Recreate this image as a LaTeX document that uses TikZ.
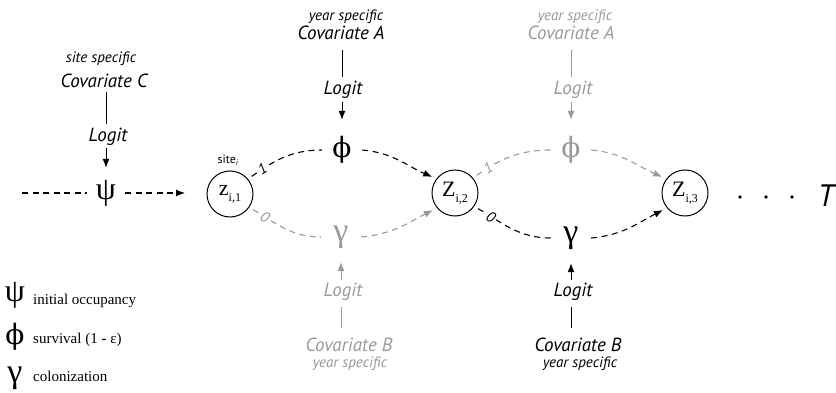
\documentclass[tikz,border=0pt]{standalone}
\usepackage{fontspec}
\setmainfont{Liberation Serif}
\newfontfamily\sansf{PT Sans}
\newfontfamily\phif{DejaVu Serif}
\usetikzlibrary{arrows.meta}
\definecolor{lg}{gray}{0.6}
\newcommand\zl[2]{{\fontsize{22}{22}\selectfont #1}\raisebox{-6pt}{\fontsize{12}{12}\selectfont #2}}
\begin{document}
\begin{tikzpicture}[x=1pt,y=1pt,
  cov/.style={font=\sansf\itshape\fontsize{19}{19}\selectfont, inner sep=0pt},
  spec/.style={font=\sansf\itshape\fontsize{15}{15}\selectfont, inner sep=0pt},
  gk/.style={inner sep=0pt, minimum width=40pt, minimum height=30pt},
  gpsi/.style={font=\fontsize{32}{32}\selectfont},
  gphi/.style={font=\phif\fontsize{28}{28}\selectfont},
  ggam/.style={font=\fontsize{34}{34}\selectfont},
  zc/.style={circle, draw, line width=1pt, minimum size=46pt, inner sep=0pt, outer sep=0pt},
  dl/.style={line width=1.1pt, dash pattern=on 6pt off 4.5pt},
  tip/.style={-{Latex[length=9pt,width=7pt]}},
  sl/.style={line width=1pt},
  num/.style={font=\sansf\itshape\fontsize{15}{15}\selectfont, inner sep=1.5pt, fill=white},
  leg/.style={font=\fontsize{15}{15}\selectfont, anchor=west, inner sep=0pt},
  dot/.style={circle, fill, inner sep=0pt, minimum size=3.6pt},
]
\useasboundingbox (0,0) rectangle (836,-393);

% main nodes
\node[gk,gpsi,minimum width=38pt] (psi) at (106,-193) {ψ};
\node[zc] (z1) at (230,-194) {\zl{z}{i,1}};
\node[gk,gphi] (phiA) at (342,-150) {ϕ};
\node[gk,ggam,text=lg] (gamA) at (341,-237) {γ};
\node[zc] (z2) at (455,-193) {\zl{Z}{i,2}};
\node[gk,gphi,text=lg] (phiB) at (571,-150) {ϕ};
\node[gk,ggam] (gamB) at (571,-238) {γ};
\node[zc] (z3) at (685,-193) {\zl{Z}{i,3}};
\node[font=\sansf\fontsize{12}{12}\selectfont, inner sep=0pt] (site) at (228,-160) {site\textsubscript{\itshape i}};
\node[dot] (d1) at (740,-197) {};
\node[dot] (d2) at (766,-197) {};
\node[dot] (d3) at (792,-197) {};
\node[font=\sansf\itshape\fontsize{31}{31}\selectfont, inner sep=0pt] (T) at (826,-196) {T};
\coordinate (start) at (22,-193);

% covariate C
\node[spec] (sC) at (101,-59) {site specific};
\node[cov] (cC) at (104,-81) {Covariate C};
\node[cov] (lC) at (108,-137) {Logit};
\draw[sl,shorten <=4pt,shorten >=4.5pt] (cC.south -| psi.north) -- (lC.north -| psi.north);
\draw[sl,tip,shorten <=2pt,shorten >=10pt] (lC.south -| psi.north) -- (psi.north);

% covariate A black
\node[spec] (sA1) at (346,-17) {year specific};
\node[cov] (cA1) at (341,-33) {Covariate A};
\node[cov] (lA1) at (343,-89.5) {Logit};
\draw[sl,shorten <=10pt,shorten >=3.4pt] (cA1.south -| phiA.north) -- (lA1.north -| phiA.north);
\draw[sl,tip,shorten <=3.4pt,shorten >=15pt] (lA1.south -| phiA.north) -- (phiA.north);

% covariate A grey
\begin{scope}[lg]
\node[spec,text=lg] (sA2) at (575,-17) {year specific};
\node[cov,text=lg] (cA2) at (571,-33) {Covariate A};
\node[cov,text=lg] (lA2) at (573,-89.5) {Logit};
\draw[sl,shorten <=10pt,shorten >=3.4pt] (cA2.south -| phiB.north) -- (lA2.north -| phiB.north);
\draw[sl,tip,shorten <=3.4pt,shorten >=15pt] (lA2.south -| phiB.north) -- (phiB.north);
\end{scope}

% covariate B grey
\begin{scope}[lg]
\node[cov,text=lg] (lB1) at (343,-292) {Logit};
\node[cov,text=lg] (cB1) at (349,-345) {Covariate B};
\node[spec,text=lg] (sB1) at (350,-364) {year specific};
\draw[sl,shorten <=10pt,shorten >=5.6pt] (cB1.north -| gamA.south) -- (lB1.south -| gamA.south);
\draw[sl,tip,shorten <=2.6pt,shorten >=10pt] (lB1.north -| gamA.south) -- (gamA.south);
\end{scope}

% covariate B black
\node[cov] (lB2) at (573,-292) {Logit};
\node[cov] (cB2) at (578,-345) {Covariate B};
\node[spec] (sB2) at (580,-364) {year specific};
\draw[sl,shorten <=10pt,shorten >=5.6pt] (cB2.north -| gamB.south) -- (lB2.south -| gamB.south);
\draw[sl,tip,shorten <=2.6pt,shorten >=10pt] (lB2.north -| gamB.south) -- (gamB.south);

% horizontal flow
\draw[dl] (start) -- (psi.west);
\draw[dl,tip,shorten >=22pt] (psi.east) -- (psi.east -| z1.west);

\draw[dl,shorten <=5pt] (z1.40) to[out=35,in=180] node[num,sloped,pos=0.2]{1} (phiA.west);
\draw[dl,tip,shorten >=5pt] (phiA.east) to[out=-5,in=157] (z2.142);
\draw[dl,lg,shorten <=5pt] (z1.-35) to[out=-30,in=180] node[num,sloped,pos=0.22,text=lg]{0} (gamA.west);
\draw[dl,lg,tip,shorten >=5pt] (gamA.east) to[out=5,in=207] (z2.220);

\draw[dl,lg,shorten <=5pt] (z2.40) to[out=35,in=180] node[num,sloped,pos=0.2,text=lg]{1} (phiB.west);
\draw[dl,lg,tip,shorten >=5pt] (phiB.east) to[out=-5,in=157] (z3.142);
\draw[dl,shorten <=5pt] (z2.-35) to[out=-30,in=180] node[num,sloped,pos=0.22]{0} (gamB.west);
\draw[dl,tip,shorten >=5pt] (gamB.east) to[out=5,in=207] (z3.220);

% legend
\node[gk,gpsi,minimum width=0pt] (lpsi) at (15,-295) {ψ};
\node[gk,gphi,minimum width=0pt] (lphi) at (15,-337) {ϕ};
\node[gk,ggam,minimum width=0pt] (lgam) at (15,-378) {γ};
\node[leg] (tpsi) at (33,-301) {initial occupancy};
\node[leg] (tphi) at (33,-339.5) {survival (1 \textbf{-} ε)};
\node[leg] (tgam) at (33,-376.5) {colonization};
\end{tikzpicture}
\end{document}
